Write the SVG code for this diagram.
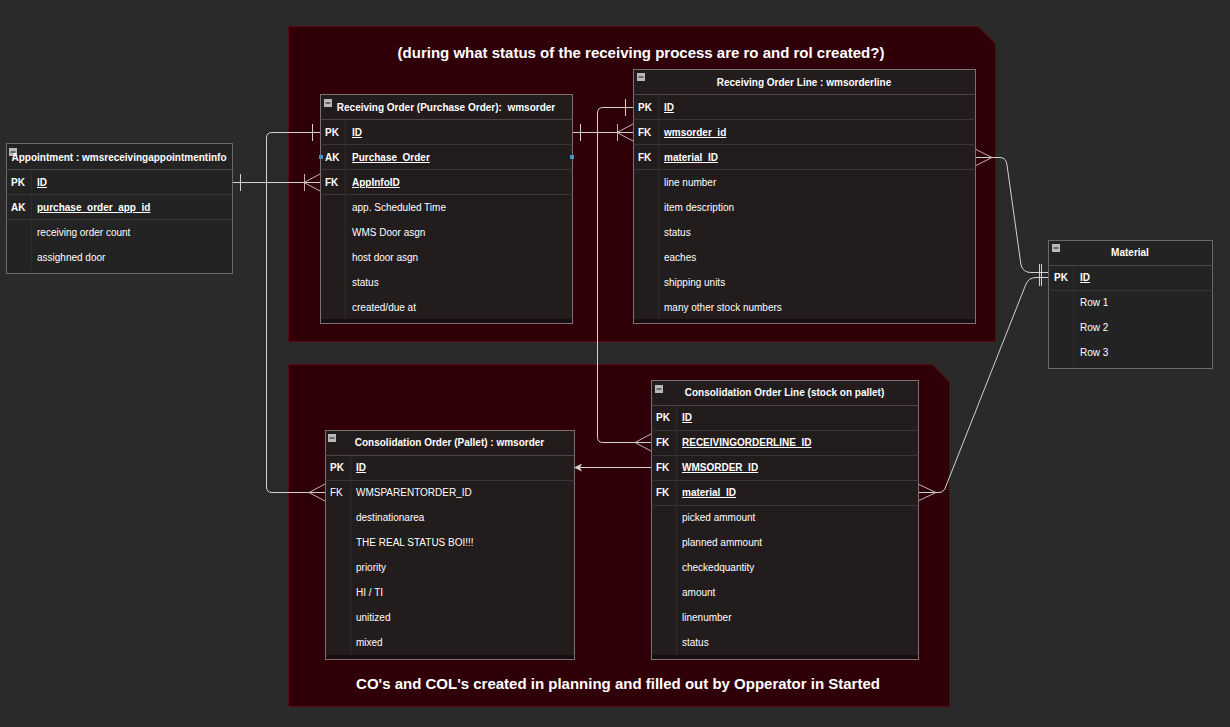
<svg xmlns="http://www.w3.org/2000/svg" width="1230" height="727" viewBox="0 0 1230 727">
<defs>
<style>
text{font-family:"Liberation Sans",Arial,sans-serif;fill:#ffffff}
.big{font-size:15px;font-weight:bold}
.hd{font-size:10px;font-weight:bold;text-anchor:middle}
.k{font-size:10px;font-weight:bold}
.kn{font-size:10px}
.u{font-size:10px;font-weight:bold;text-decoration:underline}
.a{font-size:10px}
.cont{fill:#300009;stroke:#5e0612;stroke-width:1}
.tbl{fill:#231c1d;stroke:#7d7073;stroke-width:1}
.tbl2{fill:#232323;stroke:#6a6a6a;stroke-width:1}
.sep{stroke:#3c3537;stroke-width:1}
.hsep{stroke:#4d4547;stroke-width:1}
.div{stroke:#302a2b;stroke-width:1}
.strip{fill:#170e0f}
.ic{fill:#b9b9b9}
.icl{stroke:#333;stroke-width:1.2}
.c{fill:none;stroke:#d2d2d2;stroke-width:1}
.cr{fill:none;stroke:#bfb3b5;stroke-width:1}
.mk{fill:#3f97c8}
</style>
<marker id="arr" markerWidth="8" markerHeight="8" refX="7" refY="4" orient="auto" markerUnits="userSpaceOnUse">
<path d="M0,0 L8,4 L0,8 L2,4 Z" fill="#d2d2d2"/>
</marker>
</defs>
<rect x="0" y="0" width="1230" height="727" fill="#2a2a2a"/>

<g id="container-receiving">
<path class="cont" d="M288.5,26.5 H978 L995.5,44 V341.5 H288.5 Z"/>
<text class="big" x="641" y="57.5" text-anchor="middle">(during what status of the receiving process are ro and rol created?)</text>
</g>
<g id="container-consolidation">
<path class="cont" d="M288.5,364.5 H932 L949.5,382 V706.5 H288.5 Z"/>
<text class="big" x="618" y="688.5" text-anchor="middle">CO's and COL's created in planning and filled out by Opperator in Started</text>
</g>

<g id="connectors">
<path class="c" d="M232,182.5 H320"/>
<path class="c" d="M240.5,174 V191"/>
<path class="cr" d="M320,174 L304,182.5 L320,191 M304.5,174 V191"/>
<path class="c" d="M320,132.5 H272 Q266.5,132.5 266.5,138 V487 Q266.5,492.5 272,492.5 H325"/>
<path class="c" d="M312.5,124 V141"/>
<path class="cr" d="M325,484 L309,492.5 L325,501"/>
<path class="c" d="M572,132.5 H633"/>
<path class="c" d="M580.5,124 V141"/>
<path class="cr" d="M633,124 L617,132.5 L633,141 M617.5,124 V141"/>
<path class="c" d="M633,107.5 H603 Q597.5,107.5 597.5,113 V437 Q597.5,442.5 603,442.5 H651"/>
<path class="c" d="M625.5,99 V116"/>
<path class="cr" d="M651,434 L635,442.5 L651,451"/>
<path class="c" d="M651,467.5 H575" marker-end="url(#arr)"/>
<path class="c" d="M975,157.5 H1000 Q1006,157.5 1007,165 L1021,265 Q1023,272.5 1031,272.5 H1048"/>
<path class="cr" d="M975,149 L992,157.5 L975,166"/>
<path class="c" d="M918,492.5 H939 Q944,492.5 946,486 L1026,284 Q1029,277.5 1036,277.5 H1048"/>
<path class="cr" d="M918,484 L936,492.5 L918,501"/>
<path class="c" d="M1039.5,264 V286 M1041.5,264 V286"/>
</g>

<g id="appointment">
<rect class="tbl2" x="6.5" y="143.5" width="226" height="130"/>
<line class="hsep" x1="6.5" y1="169.5" x2="232.5" y2="169.5"/>
<line class="sep" x1="6.5" y1="194.5" x2="232.5" y2="194.5"/>
<line class="sep" x1="6.5" y1="219.5" x2="232.5" y2="219.5"/>
<line class="div" x1="31.5" y1="170" x2="31.5" y2="269"/>
<rect class="ic" x="9" y="148" width="8" height="8"/><line class="icl" x1="10.5" y1="152" x2="15.5" y2="152"/>
<text class="hd" x="119" y="161">Appointment : wmsreceivingappointmentinfo</text>
<text class="k" x="11" y="186">PK</text><text class="u" x="37" y="186">ID</text>
<text class="k" x="11" y="211">AK</text><text class="u" x="37" y="211">purchase_order_app_id</text>
<text class="a" x="37" y="236">receiving order count</text>
<text class="a" x="37" y="261">assighned door</text>
</g>

<g id="receiving-order">
<rect class="tbl" x="320.5" y="94.5" width="252" height="229"/>
<rect class="strip" x="321" y="319" width="251" height="4"/>
<line class="hsep" x1="320.5" y1="119.5" x2="572.5" y2="119.5"/>
<line class="sep" x1="320.5" y1="144.5" x2="572.5" y2="144.5"/>
<line class="sep" x1="320.5" y1="169.5" x2="572.5" y2="169.5"/>
<line class="sep" x1="320.5" y1="194.5" x2="572.5" y2="194.5"/>
<line class="div" x1="345.5" y1="120" x2="345.5" y2="319"/>
<rect class="ic" x="324" y="99" width="8" height="8"/><line class="icl" x1="325.5" y1="103" x2="330.5" y2="103"/>
<text class="hd" x="446" y="111" xml:space="preserve">Receiving Order (Purchase Order):  wmsorder</text>
<text class="k" x="325" y="136">PK</text><text class="u" x="352" y="136">ID</text>
<text class="k" x="325" y="161">AK</text><text class="u" x="352" y="161">Purchase_Order</text>
<text class="k" x="325" y="186">FK</text><text class="u" x="352" y="186">AppInfoID</text>
<text class="a" x="352" y="211">app. Scheduled Time</text>
<text class="a" x="352" y="236">WMS Door asgn</text>
<text class="a" x="352" y="261">host door asgn</text>
<text class="a" x="352" y="286">status</text>
<text class="a" x="352" y="311">created/due at</text>
<rect class="mk" x="319" y="155" width="4" height="4"/>
<rect class="mk" x="570" y="155" width="4" height="4"/>
</g>

<g id="receiving-order-line">
<rect class="tbl" x="633.5" y="69.5" width="342" height="254"/>
<rect class="strip" x="634" y="319" width="341" height="4"/>
<line class="hsep" x1="633.5" y1="94.5" x2="975.5" y2="94.5"/>
<line class="sep" x1="633.5" y1="119.5" x2="975.5" y2="119.5"/>
<line class="sep" x1="633.5" y1="144.5" x2="975.5" y2="144.5"/>
<line class="sep" x1="633.5" y1="169.5" x2="975.5" y2="169.5"/>
<line class="div" x1="658.5" y1="95" x2="658.5" y2="319"/>
<rect class="ic" x="637" y="73" width="8" height="8"/><line class="icl" x1="638.5" y1="77" x2="643.5" y2="77"/>
<text class="hd" x="804" y="86">Receiving Order Line : wmsorderline</text>
<text class="k" x="638" y="111">PK</text><text class="u" x="664" y="111">ID</text>
<text class="k" x="638" y="136">FK</text><text class="u" x="664" y="136">wmsorder_id</text>
<text class="k" x="638" y="161">FK</text><text class="u" x="664" y="161">material_ID</text>
<text class="a" x="664" y="186">line number</text>
<text class="a" x="664" y="211">item description</text>
<text class="a" x="664" y="236">status</text>
<text class="a" x="664" y="261">eaches</text>
<text class="a" x="664" y="286">shipping units</text>
<text class="a" x="664" y="311">many other stock numbers</text>
</g>

<g id="material">
<rect class="tbl2" x="1048.5" y="240.5" width="164" height="128"/>
<line class="hsep" x1="1048.5" y1="265.5" x2="1212.5" y2="265.5"/>
<line class="sep" x1="1048.5" y1="290.5" x2="1212.5" y2="290.5"/>
<line class="div" x1="1073.5" y1="266" x2="1073.5" y2="365"/>
<rect class="ic" x="1052" y="244" width="8" height="8"/><line class="icl" x1="1053.5" y1="248" x2="1058.5" y2="248"/>
<text class="hd" x="1130" y="256">Material</text>
<text class="k" x="1054" y="281">PK</text><text class="u" x="1080" y="281">ID</text>
<text class="a" x="1080" y="306">Row 1</text>
<text class="a" x="1080" y="331">Row 2</text>
<text class="a" x="1080" y="356">Row 3</text>
</g>

<g id="consolidation-order">
<rect class="tbl" x="325.5" y="430.5" width="249" height="229"/>
<rect class="strip" x="326" y="655" width="248" height="4"/>
<line class="hsep" x1="325.5" y1="455.5" x2="574.5" y2="455.5"/>
<line class="sep" x1="325.5" y1="480.5" x2="574.5" y2="480.5"/>
<line class="div" x1="350.5" y1="456" x2="350.5" y2="655"/>
<rect class="ic" x="328" y="434" width="8" height="8"/><line class="icl" x1="329.5" y1="438" x2="334.5" y2="438"/>
<text class="hd" x="449.5" y="446">Consolidation Order (Pallet) : wmsorder</text>
<text class="k" x="330" y="471">PK</text><text class="u" x="356" y="471">ID</text>
<text class="kn" x="330" y="496">FK</text><text class="a" x="356" y="496">WMSPARENTORDER_ID</text>
<text class="a" x="356" y="521">destinationarea</text>
<text class="a" x="356" y="546">THE REAL STATUS BOI!!!</text>
<text class="a" x="356" y="571">priority</text>
<text class="a" x="356" y="596">HI / TI</text>
<text class="a" x="356" y="621">unitized</text>
<text class="a" x="356" y="646">mixed</text>
</g>

<g id="consolidation-order-line">
<rect class="tbl" x="651.5" y="380.5" width="267" height="279"/>
<rect class="strip" x="652" y="655" width="266" height="4"/>
<line class="hsep" x1="651.5" y1="405.5" x2="918.5" y2="405.5"/>
<line class="sep" x1="651.5" y1="430.5" x2="918.5" y2="430.5"/>
<line class="sep" x1="651.5" y1="455.5" x2="918.5" y2="455.5"/>
<line class="sep" x1="651.5" y1="480.5" x2="918.5" y2="480.5"/>
<line class="sep" x1="651.5" y1="505.5" x2="918.5" y2="505.5"/>
<line class="div" x1="676.5" y1="406" x2="676.5" y2="655"/>
<rect class="ic" x="655" y="385" width="8" height="8"/><line class="icl" x1="656.5" y1="389" x2="661.5" y2="389"/>
<text class="hd" x="784.5" y="396">Consolidation Order Line (stock on pallet)</text>
<text class="k" x="656" y="421">PK</text><text class="u" x="682" y="421">ID</text>
<text class="k" x="656" y="446">FK</text><text class="u" x="682" y="446">RECEIVINGORDERLINE_ID</text>
<text class="k" x="656" y="471">FK</text><text class="u" x="682" y="471">WMSORDER_ID</text>
<text class="k" x="656" y="496">FK</text><text class="u" x="682" y="496">material_ID</text>
<text class="a" x="682" y="521">picked ammount</text>
<text class="a" x="682" y="546">planned ammount</text>
<text class="a" x="682" y="571">checkedquantity</text>
<text class="a" x="682" y="596">amount</text>
<text class="a" x="682" y="621">linenumber</text>
<text class="a" x="682" y="646">status</text>
</g>
</svg>
